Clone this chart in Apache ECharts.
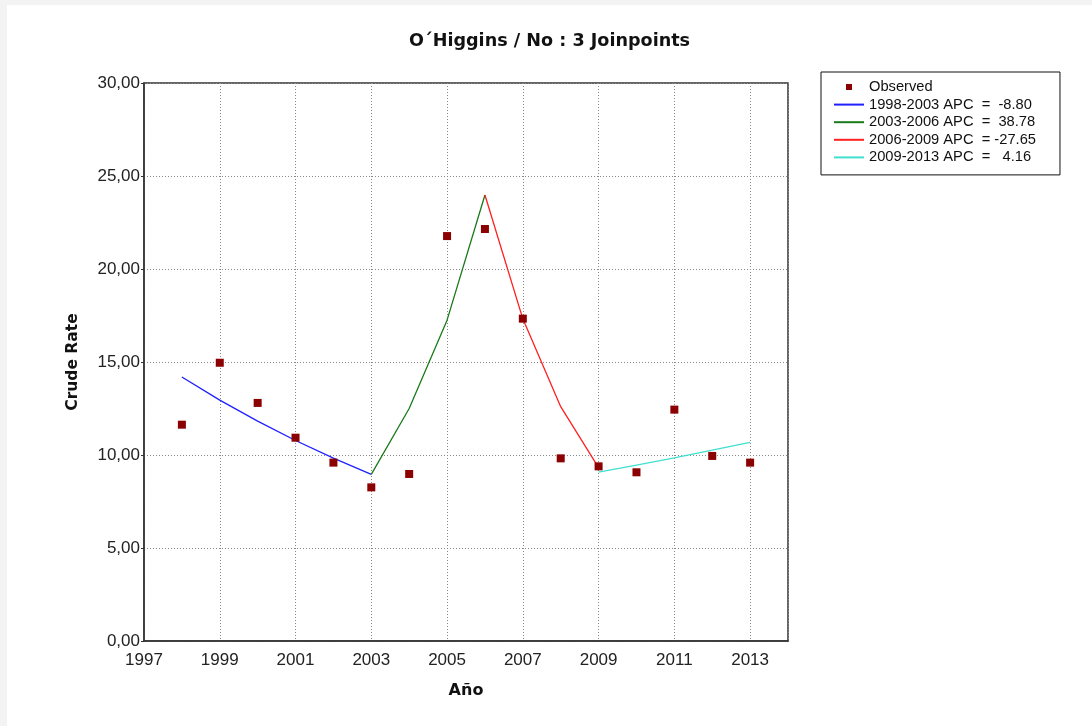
<!DOCTYPE html>
<html><head><meta charset="utf-8">
<script src="https://cdn.jsdelivr.net/npm/echarts@6/dist/echarts.min.js"></script>
<style>
html,body{margin:0;padding:0;background:#f3f3f3;width:1092px;height:726px;overflow:hidden}
#c{position:absolute;left:7px;top:5px;width:1085px;height:721px;background:#fff}
</style></head><body>
<div id="c"></div>
<script>
var years = [1998,1999,2000,2001,2002,2003,2004,2005,2006,2007,2008,2009,2010,2011,2012,2013];
var observed = [11.63,14.96,12.80,10.93,9.59,8.26,8.98,21.77,22.15,17.33,9.82,9.39,9.07,12.44,9.95,9.59];
var seg1Years = [1998,1999,2000,2001,2002,2003];
var seg1Values = [14.19,12.95,11.82,10.78,9.83,8.96];
var seg2Years = [2003,2004,2005,2006];
var seg2Values = [8.96,12.50,17.25,23.98];
var seg3Years = [2006,2007,2008,2009];
var seg3Values = [23.98,17.32,12.60,9.32];
var seg4Years = [2009,2010,2011,2012,2013];
var seg4Values = [9.08,9.46,9.85,10.26,10.68];
var segNames = ['1998-2003 APC  =  -8.80','2003-2006 APC  =  38.78','2006-2009 APC  = -27.65','2009-2013 APC  =   4.16'];
var segColors = ['#2020ff','#1a7a1a','#ff2020','#40e0d0'];

function pairs(xs, ys){ return xs.map(function(x,i){return [x, ys[i]];}); }

var lineIcon = 'path://M0,0 M0,7.5 L30,7.5 L30,9.5 L0,9.5 Z M30,17';
var sqIcon = 'path://M0,0 M12,5.5 L18,5.5 L18,11.5 L12,11.5 Z M30,17';

var segs = [[seg1Years,seg1Values],[seg2Years,seg2Values],[seg3Years,seg3Values],[seg4Years,seg4Values]];
var series = [{
  name:'Observed', type:'scatter', symbol:'rect', symbolSize:8,
  itemStyle:{color:'#8b0000', opacity:1}, data: pairs(years, observed), z:5
}];
segs.forEach(function(s,i){
  series.push({name:segNames[i], type:'line', data:pairs(s[0],s[1]), showSymbol:false, symbol:'none',
    lineStyle:{color:segColors[i], width:1.3}, itemStyle:{color:segColors[i]}, z:3});
});

var chart = echarts.init(document.getElementById('c'));
chart.setOption({
  animation:false,
  title:{text:'O´Higgins / No : 3 Joinpoints', left:'center', top:22, padding:[5,0,5,5],
    textStyle:{fontFamily:'DejaVu Sans', fontSize:17.6, fontWeight:'bold', color:'#111'}},
  legend:{left:814, top:67, orient:'vertical', itemWidth:30, itemHeight:17, itemGap:0.6,
    padding:[6.5,24,9,13], borderColor:'#111', borderWidth:1, backgroundColor:'#fff',
    textStyle:{fontFamily:'Liberation Sans', fontSize:14.7, color:'#111'},
    data:[{name:'Observed', icon:sqIcon, itemStyle:{color:'#8b0000'}}].concat(segNames.map(function(n,i){return {name:n, icon:lineIcon, itemStyle:{color:segColors[i]}};}))
  },
  grid:{left:137, top:78, right:304, bottom:85, show:true, borderColor:'#333', borderWidth:1.5},
  xAxis:{type:'value', min:1997, max:2014, interval:2,
    name:'Año', nameLocation:'middle', nameGap:42,
    nameTextStyle:{fontFamily:'DejaVu Sans', fontSize:16, fontWeight:'bold', color:'#111'},
    axisLine:{show:true, onZero:false, lineStyle:{color:'#333', width:1.5}},
    axisTick:{show:false},
    axisLabel:{showMaxLabel:false, fontFamily:'Liberation Sans', fontSize:17, color:'#222', margin:11,
      formatter:function(v){return String(v);}},
    splitLine:{show:true, lineStyle:{color:'#888', type:[1,2], width:1}}
  },
  yAxis:{type:'value', min:0, max:30, interval:5,
    name:'Crude Rate', nameLocation:'middle', nameGap:63, nameRotate:90,
    nameTextStyle:{fontFamily:'DejaVu Sans', fontSize:15.5, fontWeight:'bold', color:'#111'},
    axisLine:{show:true, lineStyle:{color:'#333', width:1.5}},
    axisTick:{show:true, length:3, lineStyle:{color:'#333'}},
    axisLabel:{fontFamily:'Liberation Sans', fontSize:17, color:'#222', margin:4,
      formatter:function(v){return v.toFixed(2).replace('.', ',');}},
    splitLine:{show:true, lineStyle:{color:'#888', type:[1,2], width:1}}
  },
  series:series
});
</script>
</body></html>
